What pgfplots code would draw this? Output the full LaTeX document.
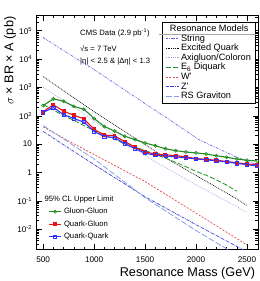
\documentclass[border=0pt]{standalone}
\usepackage{fontspec}
\setmainfont{Liberation Sans}
\usepackage{pgfplots}
\pgfplotsset{compat=1.18}

\definecolor{cGG}{RGB}{34,139,34}
\definecolor{cQG}{RGB}{230,20,20}
\definecolor{cQQ}{RGB}{50,50,255}
\definecolor{cStr}{RGB}{100,100,230}
\definecolor{cAxi}{RGB}{175,165,240}
\definecolor{cE6}{RGB}{30,150,30}
\definecolor{cWp}{RGB}{230,70,70}
\definecolor{cZp}{RGB}{60,60,215}
\definecolor{cRS}{RGB}{130,160,230}

\begin{document}
\begin{tikzpicture}
% ---------------- theory curves, frame, ticks ----------------
\begin{axis}[
  width=221.7bp, height=234bp, scale only axis,
  xmin=430, xmax=2610,
  ymode=log, ymin=1.94e-3, ymax=3.57e5,
  axis line style={line width=0.8bp},
  tick align=inside,
  major tick length=5.5bp, minor tick length=2.8bp,
  tick style={black, line width=0.5bp},
  xtick={500,1000,1500,2000,2500},
  xticklabels={500,1000,1500,2000,2500},
  minor x tick num=4,
  ytick={1e-3,1e-2,1e-1,1,10,100,1000,1e4,1e5,1e6},
  yticklabel={\pgfmathtruncatemacro{\myexp}{round(\tick/2.302585093)}%
    \ifnum\myexp=0 1\else\ifnum\myexp=1 10\else 10\textsuperscript{\myexp}\fi\fi},
  tick label style={font=\fontsize{8.2}{9}\selectfont},
  xticklabel style={yshift=-3.5bp},
  yticklabel style={xshift=-0.5bp},
  xlabel={Resonance Mass (GeV)},
  ylabel={$\sigma$ × BR × A (pb)},
  label style={font=\fontsize{12.7}{14}\selectfont},
  xlabel style={at={(rel axis cs:1.002,-0.116)}, anchor=base east},
  ylabel style={at={(rel axis cs:-0.117,1.008)}, anchor=east},
  legend style={at={(rel axis cs:0.988,0.9714)}, anchor=north east,
    draw=black, line width=0.5bp, fill=white, inner xsep=3.5bp, inner ysep=2.2bp,
    font=\fontsize{9.2}{10}\selectfont, column sep=1bp,
    nodes={inner xsep=0.8bp, inner ysep=0.4bp, text height=6.8bp, text depth=2bp}},
  legend cell align=left,
  legend image code/.code={\draw[#1] (0bp,0bp) -- (13bp,0bp);},
]
\coordinate (LL) at (rel axis cs:0,0);
\coordinate (UR) at (rel axis cs:1,1);
\addlegendimage{empty legend}
\addlegendentry{\hspace{-11bp}\smash{\makebox[0pt][l]{\hspace{-11bp}\color{black!35}\rule[-3.8bp]{97bp}{0.9bp}}}Resonance Models}

\addplot[cStr, line width=0.7bp, dash pattern=on 2.4bp off 1bp on 0.6bp off 1bp on 0.6bp off 1bp]
  coordinates {(500,5.75e4)(730,1.7e4)(1000,4.25e3)(1280,907)(1500,268)(1740,72.8)(2030,14.3)(2390,3.6)(2600,1.87)};
\addlegendentry{String}

\addplot[black, line width=0.7bp, dash pattern=on 0.8bp off 1bp]
  coordinates {(500,2400)(700,770)(1000,140)(1300,28)(1700,3.3)(2000,0.79)(2400,0.118)(2500,0.068)};
\addlegendentry{Excited Quark}

\addplot[cAxi, line width=0.7bp, dash pattern=on 0.8bp off 1bp]
  coordinates {(500,1000)(900,119)(1170,24)(1600,2.4)(2000,0.37)(2500,0.04)};
\addlegendentry{Axigluon/Coloron}

\addplot[cE6, line width=0.8bp, dash pattern=on 5bp off 2bp]
  coordinates {(500,250)(600,160)(700,100)(800,70)(900,45)(1000,30)(1100,21)(1200,15)(1300,10)(1400,8)(1500,6)(1600,4.4)(1700,3.2)(1800,2.3)(1900,1.6)(2000,1.1)(2100,0.8)(2200,0.55)(2300,0.36)(2400,0.22)};
\addlegendentry{E\textsubscript{6} Diquark}

\addplot[cWp, line width=0.7bp, dash pattern=on 2bp off 1.5bp]
  coordinates {(500,41)(750,13)(1000,4.3)(1500,0.48)(2000,0.037)(2500,0.0028)};
\addlegendentry{W'}

\addplot[cZp, line width=0.7bp, dash pattern=on 3bp off 1bp on 0.6bp off 1bp]
  coordinates {(500,28)(1000,1.9)(1500,0.14)(2000,0.0145)(2500,0.0016)};
\addlegendentry{Z'}

\addplot[cRS, line width=0.8bp, dash pattern=on 6bp off 2bp]
  coordinates {(500,45)(1000,3.0)(1500,0.13)(2000,0.009)(2350,0.0016)};
\addlegendentry{RS Graviton}

\node[anchor=west, font=\fontsize{7.7}{9}\selectfont, inner sep=0pt] at (rel axis cs:0.198,0.922) {CMS Data (2.9 pb\textsuperscript{-1})};
\node[anchor=west, font=\fontsize{7.7}{9}\selectfont, inner sep=0pt] at (rel axis cs:0.198,0.858) {√s = 7 TeV};
\node[anchor=west, font=\fontsize{7.7}{9}\selectfont, inner sep=0pt] at (rel axis cs:0.198,0.800) {|η| < 2.5 \& |Δη| < 1.3};
\end{axis}

% ---------------- data (limits) ----------------
\begin{axis}[
  width=221.7bp, height=234bp, scale only axis,
  xmin=430, xmax=2610,
  ymode=log, ymin=1.94e-3, ymax=3.57e5,
  hide axis, clip=false,
  legend style={at={(rel axis cs:0.0555,0.0267)}, anchor=south west,
    draw=none, fill=none, inner sep=0pt,
    font=\fontsize{7.7}{9}\selectfont, column sep=1.3bp,
    nodes={inner xsep=1bp, inner ysep=2.6bp, text height=5.6bp, text depth=1.7bp}},
  legend cell align=left,
  legend image code/.code={\draw[mark repeat=2,mark phase=2,#1] plot coordinates {(0bp,0bp) (6bp,0bp) (12bp,0bp)};},
]
\addlegendimage{empty legend}
\addlegendentry{\hspace{-19.3bp}95\% CL Upper Limit}

\addplot[cGG, line width=1.1bp, mark=o, mark size=1.6bp, mark options={solid, line width=0.6bp}]
  coordinates {(500,230)(600,395)(700,325)(800,215)(900,170)(1000,80)(1100,42)(1200,29)(1300,19)(1400,14.5)(1500,11)(1600,8.8)(1700,6.9)(1800,5.9)(1900,5.3)(2000,4.9)(2100,4.5)(2200,3.9)(2300,3.45)(2400,3.0)(2500,2.7)(2600,2.55)};
\addlegendentry{Gluon-Gluon}

\addplot[cQG, line width=1.1bp, mark=square*, mark size=1.4bp, mark options={solid}]
  coordinates {(500,140)(600,245)(700,145)(800,105)(900,78)(1000,33)(1100,21)(1200,19.5)(1300,12.4)(1400,7.9)(1500,5.3)(1600,4.5)(1700,4.2)(1800,3.95)(1900,3.6)(2000,3.1)(2100,2.9)(2200,2.7)(2300,2.45)(2400,2.2)(2500,2.0)(2600,1.87)};
\addlegendentry{Quark-Gluon}

\addplot[cQQ, line width=1.1bp, mark=square, mark size=1.6bp, mark options={solid, line width=0.6bp}]
  coordinates {(500,132)(600,195)(700,110)(800,80)(900,60)(1000,28)(1100,18.5)(1200,17)(1300,10.5)(1400,7.0)(1500,4.8)(1600,4.1)(1700,3.8)(1800,3.55)(1900,3.3)(2000,3.0)(2100,2.8)(2200,2.6)(2300,2.35)(2400,2.1)(2500,1.9)(2600,1.7)};
\addlegendentry{Quark-Quark}
\end{axis}
\pgfresetboundingbox
\path[use as bounding box] ([xshift=-36bp,yshift=-31.5bp]LL) rectangle ([xshift=1.3bp,yshift=15bp]UR);
\end{tikzpicture}
\end{document}
